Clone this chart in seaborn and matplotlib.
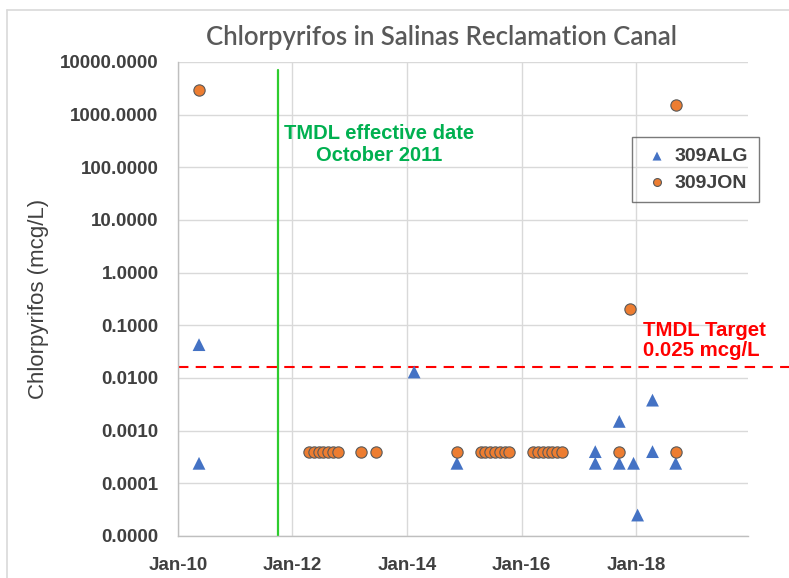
import numpy as np
import pandas as pd
import seaborn as sns
import matplotlib.pyplot as plt
import matplotlib.dates as mdates
from matplotlib.ticker import FixedLocator, FuncFormatter
from matplotlib.lines import Line2D

# 309ALG samples (blue triangles)
alg_dates = ['2010-05-15', '2010-05-15', '2014-02-15', '2014-11-15',
             '2017-04-15', '2017-04-15', '2017-09-15', '2017-09-15',
             '2017-12-15', '2018-01-10', '2018-04-15', '2018-04-15',
             '2018-09-10']
alg_values = [0.043, 0.00024, 0.013, 0.00024,
              0.0004, 0.00024, 0.0015, 0.00024,
              0.00024, 0.000025, 0.0038, 0.0004,
              0.00024]

# 309JON samples (orange circles)
jon_dates = ['2010-05-15',
             '2012-04-15', '2012-05-15', '2012-06-15', '2012-07-15',
             '2012-08-15', '2012-09-15', '2012-10-15',
             '2013-03-15', '2013-06-15', '2014-11-15',
             '2015-04-15', '2015-05-15', '2015-06-15', '2015-07-15',
             '2015-08-15', '2015-09-15', '2015-10-15',
             '2016-03-15', '2016-04-15', '2016-05-15', '2016-06-15',
             '2016-07-15', '2016-08-15', '2016-09-15',
             '2017-09-15', '2017-11-25', '2018-09-10', '2018-09-10']
jon_values = [3000,
              0.0004, 0.0004, 0.0004, 0.0004, 0.0004, 0.0004, 0.0004,
              0.0004, 0.0004, 0.0004,
              0.0004, 0.0004, 0.0004, 0.0004, 0.0004, 0.0004, 0.0004,
              0.0004, 0.0004, 0.0004, 0.0004, 0.0004, 0.0004, 0.0004,
              0.0004, 0.2, 1500, 0.0004]

tmdl_date = '2011-10-01'
target_line = 0.016

y_ticks = [0.00001, 0.0001, 0.001, 0.01, 0.1, 1, 10, 100, 1000, 10000]
x_ticks = ['2010-01-01', '2012-01-01', '2014-01-01', '2016-01-01', '2018-01-01']

alg = pd.DataFrame({'date': pd.to_datetime(alg_dates), 'value': alg_values})
jon = pd.DataFrame({'date': pd.to_datetime(jon_dates), 'value': jon_values})

sns.set_style("white")
plt.rcParams['font.family'] = ['Liberation Sans', 'DejaVu Sans']

fig = plt.figure(figsize=(7.89, 5.78), dpi=100)
ax = fig.add_axes([178/789, 1-536/578, 570/789, 474/578])

sns.scatterplot(data=alg, x='date', y='value', ax=ax, marker='^', s=85,
                color='#4472C4', edgecolor='none', label='309ALG', zorder=3)
sns.scatterplot(data=jon, x='date', y='value', ax=ax, marker='o', s=66,
                color='#ED7D31', edgecolor='#595959', linewidth=0.8,
                label='309JON', zorder=4)

ax.set_yscale('log')
ax.set_ylim(1e-5, 1e4)
ax.set_xlim(pd.Timestamp('2010-01-01'), pd.Timestamp('2019-12-15'))
ax.yaxis.set_major_locator(FixedLocator(y_ticks))
ax.yaxis.set_minor_locator(FixedLocator([]))
ax.yaxis.set_major_formatter(FuncFormatter(lambda v, p: f"{v:.4f}"))
ax.set_xticks(pd.to_datetime(x_ticks))
ax.xaxis.set_major_formatter(mdates.DateFormatter('%b-%y'))

ax.grid(True, color='#D9D9D9', linewidth=1.0, zorder=0)
ax.set_axisbelow(True)
for side in ['top', 'right']:
    ax.spines[side].set_visible(False)
for side in ['left', 'bottom']:
    ax.spines[side].set_color('#BFBFBF')
    ax.spines[side].set_linewidth(1.0)

ax.tick_params(axis='both', length=0, labelsize=13.5, labelcolor='#404040')
ax.tick_params(axis='y', pad=14)
ax.tick_params(axis='x', pad=15)
for lab in ax.get_xticklabels() + ax.get_yticklabels():
    lab.set_fontweight('bold')

ax.set_xlabel('')
ax.set_ylabel('Chlorpyrifos (mcg/L)', fontsize=16, color='#404040')
ax.yaxis.set_label_coords(-0.226, 0.5)

# TMDL effective date and target lines
ax.axvline(pd.Timestamp(tmdl_date), ymin=0, ymax=0.983, color='#2ECC2E',
           linewidth=1.6, zorder=2)
ax.axhline(target_line, xmin=0, xmax=1.075, color='#FF0000', linewidth=1.5,
           linestyle=(0, (5, 3.5)), clip_on=False, zorder=2)

ax.text(0.353, 0.826, 'TMDL effective date\nOctober 2011', transform=ax.transAxes,
        ha='center', va='center', fontsize=14.5, fontweight='bold',
        color='#00B050', linespacing=1.2)
ax.text(0.816, 0.4124, 'TMDL Target\n0.025 mcg/L', transform=ax.transAxes,
        ha='left', va='center', fontsize=14.7, fontweight='bold',
        color='#FF0000', linespacing=1.1)

leg = ax.legend(loc='upper left', bbox_to_anchor=(0.796, 0.842),
                borderaxespad=0, frameon=True, fancybox=False,
                edgecolor='#595959', fontsize=14, handletextpad=0.15,
                borderpad=0.55, labelspacing=0.45, markerscale=0.7,
                handlelength=1.5)
leg.get_frame().set_facecolor('none')
leg.get_frame().set_linewidth(1.0)
for t in leg.get_texts():
    t.set_fontweight('bold')
    t.set_color('#404040')

fig.text(441/789, 1-37/578, 'Chlorpyrifos in Salinas Reclamation Canal',
         ha='center', va='center', fontsize=18.5, color='#595959',
         family=['Lato', 'DejaVu Sans'], fontweight='semibold')

# chart border lines
fig.add_artist(Line2D([7/789, 7/789], [0, 1-10/578], transform=fig.transFigure,
                      color='#D9D9D9', linewidth=1.2))
fig.add_artist(Line2D([7/789, 1], [1-10/578, 1-10/578], transform=fig.transFigure,
                      color='#D9D9D9', linewidth=1.2))

fig.savefig('out.png', dpi=100)
